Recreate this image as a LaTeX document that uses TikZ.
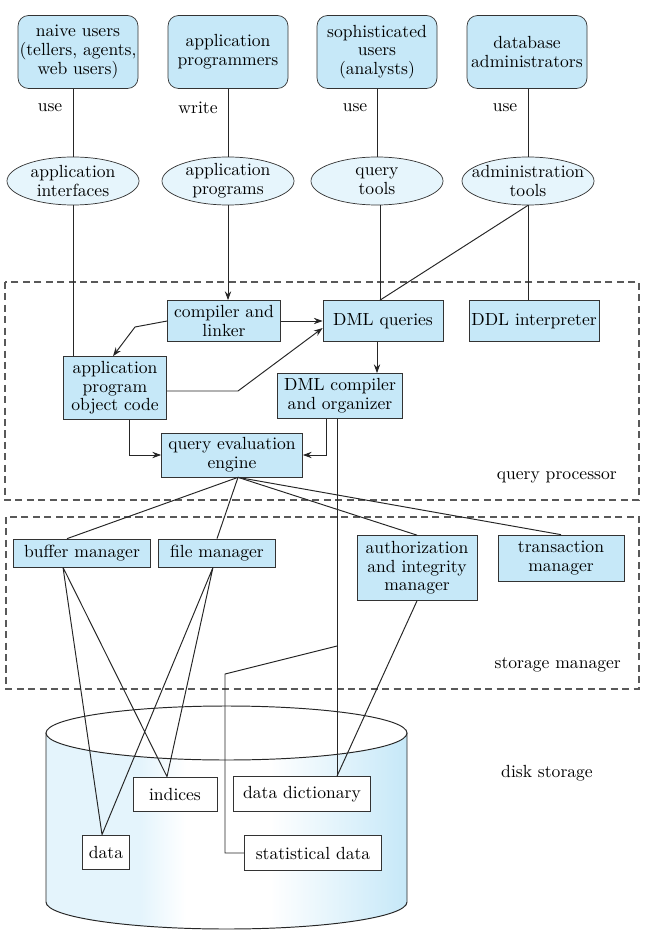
\documentclass[tikz,border=0pt]{standalone}
\usepackage{tikz}
\usetikzlibrary{arrows.meta,shapes.geometric}

\definecolor{boxblue}{HTML}{C6E8F8}
\definecolor{ellblue}{HTML}{E6F5FC}
\definecolor{cylpale}{HTML}{E4F4FC}

\begin{document}
\begin{tikzpicture}[every node/.style={font=\fontsize{10}{10.6}\selectfont},
  topbox/.style={draw=black!80,fill=boxblue,rounded corners=6pt,minimum width=2.4cm,minimum height=1.46cm,align=center,inner sep=0.5pt},
  toolell/.style={draw=black!80,fill=ellblue,ellipse,minimum width=2.64cm,minimum height=0.96cm,align=center,inner xsep=-6pt,inner ysep=-1pt},
  pbox/.style={draw=black!80,fill=boxblue,align=center,inner sep=1pt},
  fbox/.style={draw=black!80,fill=white,align=center,inner sep=1pt},
  zone/.style={draw=black!65,dash pattern=on 4pt off 2.5pt,line width=.6pt},
  link/.style={draw=black!85,line width=.55pt},
  arr/.style={link,-{Stealth[length=5pt,width=3.6pt]}}]
\useasboundingbox (0,0) rectangle (13.14,-18.74);
% disk
\begin{scope}
\clip (0.92,-14.66) -- (0.92,-18.04) arc[start angle=180,end angle=360,x radius=3.61,y radius=0.54] -- (8.14,-14.66) -- cycle;
\fill[cylpale] (0.92,-14.0) rectangle (2.80,-18.7);
\shade[left color=cylpale,right color=white] (2.80,-14.0) rectangle (3.72,-18.7);
\shade[left color=white,right color=boxblue] (5.40,-14.0) rectangle (8.14,-18.7);
\end{scope}
\draw[link] (0.92,-14.66) -- (0.92,-18.04) arc[start angle=180,end angle=360,x radius=3.61,y radius=0.54] -- (8.14,-14.66);
\draw[link,fill=white] (4.53,-14.66) ellipse [x radius=3.61,y radius=0.54];
% users
\node[topbox] (nu) at (1.56,-1.04) {naive users\\(tellers, agents,\\web users)};
\node[topbox] (apm) at (4.56,-1.04) {application\\programmers};
\node[topbox] (su) at (7.54,-1.04) {sophisticated\\users\\(analysts)};
\node[topbox] (dba) at (10.54,-1.04) {database\\administrators};
\node (use1) at (1.00,-2.16) {use};
\node (wr) at (3.96,-2.16) {write};
\node (use2) at (7.10,-2.16) {use};
\node (use3) at (10.10,-2.16) {use};
\node[toolell] (ai) at (1.46,-3.62) {application\\interfaces};
\node[toolell] (ap) at (4.56,-3.62) {application\\programs};
\node[toolell] (qt) at (7.54,-3.62) {query\\tools};
\node[toolell] (at) at (10.56,-3.62) {administration\\tools};
\draw[link] (ai.north |- nu.south) -- (ai.north);
\draw[link] (ap.north |- apm.south) -- (ap.north);
\draw[link] (qt.north |- su.south) -- (qt.north);
\draw[link] (at.north |- dba.south) -- (at.north);
% query processor
\draw[zone] (0.10,-5.64) rectangle (12.78,-10.00);
\node[anchor=east] (qpl) at (12.46,-9.54) {query processor};
\node[pbox,minimum width=2.26cm,minimum height=0.82cm] (cl) at (4.48,-6.42) {compiler and\\linker};
\node[pbox,minimum width=2.40cm,minimum height=0.82cm] (dq) at (7.66,-6.42) {DML queries};
\node[pbox,minimum width=2.60cm,minimum height=0.82cm] (ddl) at (10.68,-6.42) {DDL interpreter};
\node[pbox,minimum width=2.06cm,minimum height=1.26cm] (oc) at (2.30,-7.76) {application\\program\\object code};
\node[pbox,minimum width=2.50cm,minimum height=0.90cm] (dc) at (6.80,-7.92) {DML compiler\\and organizer};
\node[pbox,minimum width=2.82cm,minimum height=0.88cm] (qe) at (4.64,-9.10) {query evaluation\\engine};
\coordinate (dqin) at ([xshift=-0.06cm]dq.north);
\draw[arr] (ap.south) -- (ap.south |- cl.north);
\draw[arr] (cl.east) -- (dq.west);
\draw[arr] (cl.west) -- (2.70,-6.54) -- ([xshift=-0.04cm]oc.north);
\draw[link] (ai.south) -- (ai.south |- oc.north);
\draw[arr] ([yshift=-0.06cm]oc.east) -- (4.76,-7.82) -- ([yshift=-0.14cm]dq.west);
\draw[arr] ([xshift=0.28cm]oc.south) |- (qe.west);
\draw[arr] ([xshift=-0.28cm]dc.south) |- (qe.east);
\draw[arr] ([xshift=-0.12cm]dq.south) -- ([xshift=-0.12cm]dq.south |- dc.north);
\draw[link] (qt.south -| dqin) -- (dqin);
\draw[link] (at.south) -- (dqin);
\draw[link] (at.south) -- (at.south |- ddl.north);
% storage manager
\draw[zone] (0.12,-10.34) rectangle (12.78,-13.78);
\node[anchor=east] (sml) at (12.54,-13.30) {storage manager};
\node[pbox,minimum width=2.74cm,minimum height=0.56cm] (bm) at (1.64,-11.06) {buffer manager};
\node[pbox,minimum width=2.34cm,minimum height=0.56cm] (fm) at (4.34,-11.06) {file manager};
\node[pbox,minimum width=2.40cm,minimum height=1.30cm] (az) at (8.34,-11.36) {authorization\\and integrity\\manager};
\node[pbox,minimum width=2.52cm,minimum height=0.92cm] (tm) at (11.22,-11.16) {transaction\\manager};
\coordinate (qeout) at ([xshift=0.12cm]qe.south);
\draw[link] (qeout) -- ([xshift=-0.30cm]bm.north);
\draw[link] (qeout) -- (fm.north);
\draw[link] (qeout) -- (az.north);
\draw[link] (qeout) -- (tm.north);
% disk storage
\node (dsl) at (10.94,-15.46) {disk storage};
\node[fbox,minimum width=0.94cm,minimum height=0.68cm] (data) at (2.12,-17.04) {data};
\node[fbox,minimum width=1.68cm,minimum height=0.68cm] (idx) at (3.50,-15.88) {indices};
\node[fbox,minimum width=2.74cm,minimum height=0.70cm] (dict) at (6.04,-15.88) {data dictionary};
\node[fbox,minimum width=2.74cm,minimum height=0.70cm] (stat) at (6.26,-17.06) {statistical data};
\coordinate (bmout) at ([xshift=-0.38cm]bm.south);
\coordinate (fmout) at ([xshift=-0.08cm]fm.south);
\coordinate (datain) at ([xshift=-0.08cm]data.north);
\coordinate (idxin) at ([xshift=-0.16cm]idx.north);
\coordinate (dictin) at ([xshift=0.70cm]dict.north);
\coordinate (dcout) at ([xshift=-0.06cm]dc.south);
\coordinate (stbr) at (6.74,-12.92);
\draw[link] (bmout) -- (datain) (bmout) -- (idxin) (fmout) -- (datain) (fmout) -- (idxin);
\draw[link] (az.south) -- (dictin);
\draw[link] (dcout) -- (dcout |- dictin);
\draw[link] (stbr) -- (4.50,-13.48) |- (stat.west);
\end{tikzpicture}
\end{document}
